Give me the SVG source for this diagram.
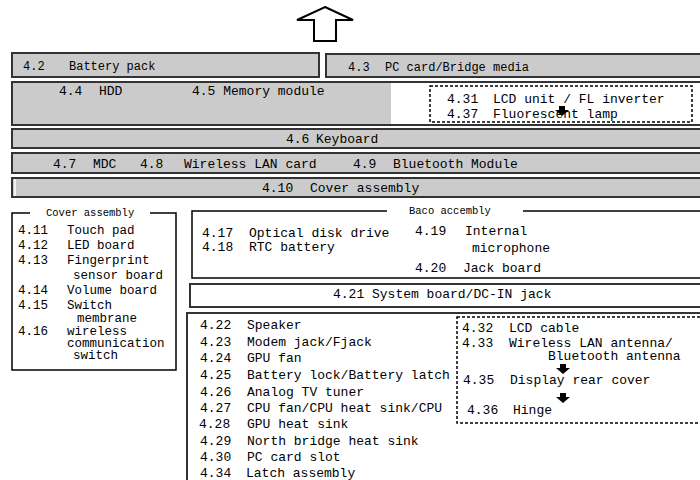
<svg xmlns="http://www.w3.org/2000/svg" width="700" height="480" viewBox="0 0 700 480">
<style>
text{font-family:"Liberation Mono","DejaVu Sans Mono",monospace;fill:#000}
.t12{font-size:12px}
.t13{font-size:13px}
.t125{font-size:12.5px}
.cap{font-size:10.5px}
.bar{fill:#cbcbcb;stroke:#333;stroke-width:2}
.wbox{fill:#fff;stroke:#333;stroke-width:2}
.dot{fill:none;stroke:#000;stroke-width:1.5;stroke-dasharray:3 2}
.ln{stroke:#000;stroke-width:1.5;fill:none}
.arr{fill:#000}
</style>
<defs>
<path id="dn" d="M-3,0 h6 v4 h4 l-7,6 l-7,-6 h4 z"/>
</defs>

<g id="up-arrow"><path d="M325,7 L353,20 L336,20 L336,41 L314,41 L314,20 L297,20 Z" fill="#fff" stroke="#000" stroke-width="2"/></g>

<g id="n42"><rect class="bar" x="12" y="53" width="307" height="24"/><text class="t12" x="23" y="70">4.2</text><text class="t12" x="69" y="70">Battery pack</text></g>
<g id="n43"><rect class="bar" x="326" y="54" width="380" height="23"/><text class="t12" x="348" y="71">4.3</text><text class="t12" x="385" y="71">PC card/Bridge media</text></g>

<g id="row2"><rect class="wbox" x="12" y="82" width="694" height="43"/><rect x="13" y="83" width="378" height="41" fill="#cbcbcb"/>
<text class="t13" x="59" y="95">4.4</text><text class="t13" x="99" y="95">HDD</text><text class="t13" x="192" y="95">4.5 Memory module</text></g>
<g id="lcd-group"><rect class="dot" x="430" y="86" width="262" height="36"/>
<text class="t13" x="447" y="103">4.31</text><text class="t13" x="493" y="103">LCD unit / FL inverter</text>
<use href="#dn" x="562" y="106" class="arr"/>
<text class="t13" x="447" y="118">4.37</text><text class="t13" x="493" y="118">Fluorescent lamp</text></g>

<g id="n46"><rect class="bar" x="12" y="129" width="694" height="19"/><text class="t13" x="286" y="143">4.6</text><text class="t13" x="316" y="143">Keyboard</text></g>
<g id="row4"><rect class="bar" x="12" y="153" width="694" height="20"/>
<text class="t13" x="53" y="168">4.7</text><text class="t13" x="93" y="168">MDC</text>
<text class="t13" x="140" y="168">4.8</text><text class="t13" x="184" y="168">Wireless LAN card</text>
<text class="t13" x="353" y="168">4.9</text><text class="t13" x="393" y="168">Bluetooth Module</text></g>
<g id="n410"><rect class="bar" x="12" y="178" width="694" height="19"/><line x1="15" y1="179" x2="15" y2="196" stroke="#fff" stroke-width="1.5"/><text class="t13" x="262" y="192">4.10</text><text class="t13" x="310" y="192">Cover assembly</text></g>

<g id="cover-assembly">
<path class="ln" d="M30,213 H12 V370 H176 V213 H150"/>
<text class="cap" x="46" y="216">Cover assembly</text>
<text class="t125" x="18" y="234">4.11</text><text class="t125" x="67" y="234">Touch pad</text>
<text class="t125" x="18" y="249">4.12</text><text class="t125" x="67" y="249">LED board</text>
<text class="t125" x="18" y="264">4.13</text><text class="t125" x="67" y="264">Fingerprint</text>
<text class="t125" x="73" y="279">sensor board</text>
<text class="t125" x="18" y="294">4.14</text><text class="t125" x="67" y="294">Volume board</text>
<text class="t125" x="18" y="309">4.15</text><text class="t125" x="67" y="309">Switch</text>
<text class="t125" x="77" y="322">membrane</text>
<text class="t125" x="18" y="335">4.16</text><text class="t125" x="67" y="335">wireless</text>
<text class="t125" x="67" y="347">communication</text>
<text class="t125" x="73" y="359">switch</text>
</g>

<g id="baco-assembly">
<path class="ln" d="M387,211 H192 V278 H706 M706,211 H523"/>
<text class="cap" x="409" y="214">Baco accembly</text>
<text class="t13" x="202" y="237">4.17</text><text class="t13" x="249" y="237">Optical disk drive</text>
<text class="t13" x="202" y="251">4.18</text><text class="t13" x="249" y="251">RTC battery</text>
<text class="t13" x="415" y="235">4.19</text><text class="t13" x="465" y="235">Internal</text>
<text class="t13" x="472" y="252">microphone</text>
<text class="t13" x="415" y="272">4.20</text><text class="t13" x="463" y="272">Jack board</text>
</g>

<g id="n421"><rect class="wbox" x="190" y="284" width="516" height="23"/><text class="t13" x="333" y="298">4.21</text><text class="t13" x="372" y="298">System board/DC-IN jack</text></g>

<g id="parts-list">
<rect class="wbox" x="187" y="313" width="519" height="180"/>
<text class="t13" x="200" y="329">4.22</text><text class="t13" x="247" y="329">Speaker</text>
<text class="t13" x="200" y="346">4.23</text><text class="t13" x="247" y="346">Modem jack/Fjack</text>
<text class="t13" x="200" y="362">4.24</text><text class="t13" x="247" y="362">GPU fan</text>
<text class="t13" x="200" y="379">4.25</text><text class="t13" x="247" y="379">Battery lock/Battery latch</text>
<text class="t13" x="200" y="396">4.26</text><text class="t13" x="247" y="396">Analog TV tuner</text>
<text class="t13" x="200" y="412">4.27</text><text class="t13" x="247" y="412">CPU fan/CPU heat sink/CPU</text>
<text class="t13" x="199" y="428">4.28</text><text class="t13" x="247" y="428">GPU heat sink</text>
<text class="t13" x="200" y="445">4.29</text><text class="t13" x="247" y="445">North bridge heat sink</text>
<text class="t13" x="200" y="461">4.30</text><text class="t13" x="247" y="461">PC card slot</text>
<text class="t13" x="200" y="477">4.34</text><text class="t13" x="246" y="477">Latch assembly</text>
</g>

<g id="display-group">
<rect class="dot" x="457" y="317" width="260" height="106"/>
<text class="t13" x="462" y="332">4.32</text><text class="t13" x="509" y="332">LCD cable</text>
<text class="t13" x="462" y="347">4.33</text><text class="t13" x="509" y="347">Wireless LAN antenna/</text>
<text class="t13" x="548" y="360">Bluetooth antenna</text>
<use href="#dn" x="563" y="364" class="arr"/>
<text class="t13" x="463" y="384">4.35</text><text class="t13" x="510" y="384">Display rear cover</text>
<use href="#dn" x="563" y="393" class="arr"/>
<text class="t13" x="467" y="414">4.36</text><text class="t13" x="513" y="414">Hinge</text>
</g>
</svg>
